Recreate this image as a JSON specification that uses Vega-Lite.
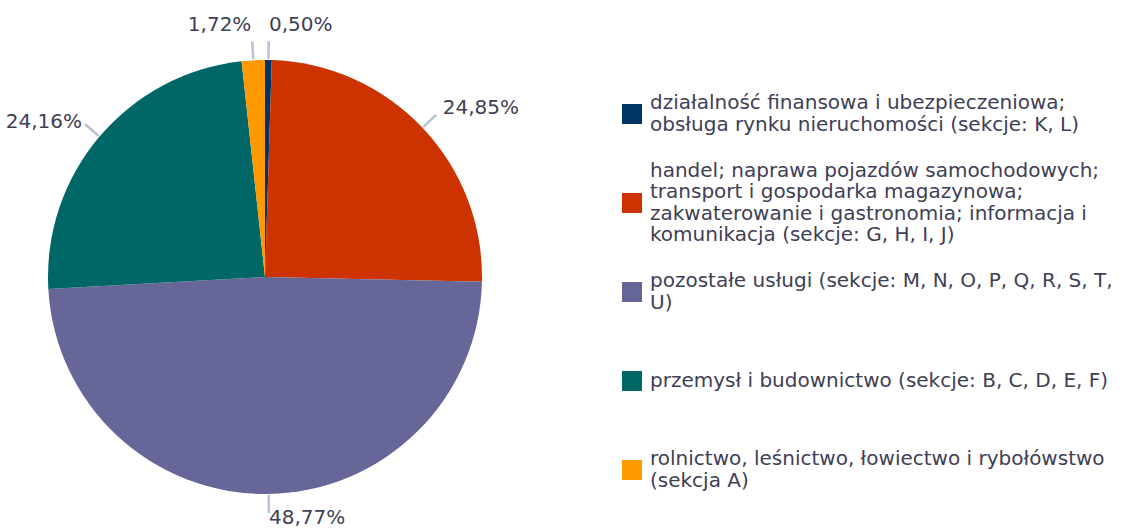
{
  "$schema": "https://vega.github.io/schema/vega-lite/v6.json",
  "background": "white",
  "padding": 0,
  "spacing": 92,
  "datasets": {
    "d": [
      {"cat": "KL", "label": "działalność finansowa i ubezpieczeniowa;\nobsługa rynku nieruchomości (sekcje: K, L)", "value": 0.50, "ord": 1},
      {"cat": "GHIJ", "label": "handel; naprawa pojazdów samochodowych;\ntransport i gospodarka magazynowa;\nzakwaterowanie i gastronomia; informacja i\nkomunikacja (sekcje: G, H, I, J)", "value": 24.85, "ord": 2},
      {"cat": "MU", "label": "pozostałe usługi (sekcje: M, N, O, P, Q, R, S, T,\nU)", "value": 48.77, "ord": 3},
      {"cat": "BF", "label": "przemysł i budownictwo (sekcje: B, C, D, E, F)", "value": 24.16, "ord": 4},
      {"cat": "A", "label": "rolnictwo, leśnictwo, łowiectwo i rybołówstwo\n(sekcja A)", "value": 1.72, "ord": 5}
    ]
  },
  "config": {
    "view": {"stroke": null},
    "font": "DejaVu Sans"
  },
  "hconcat": [
    {
      "width": 530,
      "height": 554,
      "data": {"name": "d"},
      "transform": [
        {"window": [{"op": "sum", "field": "value", "as": "cum"}], "sort": [{"field": "ord"}], "frame": [null, 0]},
        {"calculate": "datum.cum - datum.value / 2", "as": "mid"},
        {"calculate": "datum.mid - 0.09", "as": "t1"},
        {"calculate": "datum.mid + 0.09", "as": "t2"},
        {"calculate": "replace(format(datum.value, '.2f'), '.', ',') + '%'", "as": "pct"}
      ],
      "layer": [
        {
          "mark": {"type": "arc", "radius": 217},
          "encoding": {
            "theta": {"field": "value", "type": "quantitative", "stack": true, "scale": {"domain": [0, 100]}},
            "color": {
              "field": "cat", "type": "nominal",
              "scale": {"domain": ["KL", "GHIJ", "MU", "BF", "A"], "range": ["#003366", "#cc3300", "#666699", "#006666", "#ff9900"]},
              "legend": null
            },
            "order": {"field": "ord", "type": "quantitative"}
          }
        },
        {
          "mark": {"type": "arc", "radius": 236, "radius2": 218, "color": "#b8c4d4"},
          "encoding": {
            "theta": {"field": "t1", "type": "quantitative", "stack": null},
            "theta2": {"field": "t2"}
          }
        },
        {
          "transform": [{"filter": "datum.mid < 50"}],
          "mark": {"type": "text", "radius": {"expr": "datum.mid < 5 ? 252 : datum.mid < 25 ? 245 : 241"}, "align": "left", "baseline": "middle", "fontSize": 20, "color": "#404055"},
          "encoding": {
            "theta": {"field": "mid", "type": "quantitative", "stack": null},
            "text": {"field": "pct"}
          }
        },
        {
          "transform": [{"filter": "datum.mid >= 50"}],
          "mark": {"type": "text", "radius": {"expr": "datum.mid > 95 ? 252 : 240"}, "align": "right", "baseline": "middle", "fontSize": 20, "color": "#404055"},
          "encoding": {
            "theta": {"field": "mid", "type": "quantitative", "stack": null},
            "text": {"field": "pct"}
          }
        }
      ]
    },
    {
      "width": 20,
      "height": 528,
      "data": {"name": "d"},
      "layer": [
        {
          "mark": {"type": "point", "shape": "square", "filled": true, "size": 400, "opacity": 1},
          "encoding": {
            "y": {"field": "cat", "type": "ordinal", "sort": {"field": "ord"}, "scale": {"type": "point", "range": [114, 470], "padding": 0}, "axis": null},
            "color": {"field": "cat", "type": "nominal", "legend": null}
          }
        },
        {
          "mark": {"type": "text", "align": "left", "baseline": "middle", "dx": 18, "dy": {"expr": "-(length(split(datum.label, '\\n')) - 1) * 10.75"}, "fontSize": 20, "lineBreak": "\n", "lineHeight": 21.5, "color": "#404055"},
          "encoding": {
            "y": {"field": "cat", "type": "ordinal", "sort": {"field": "ord"}, "axis": null},
            "text": {"field": "label"}
          }
        }
      ]
    }
  ]
}
